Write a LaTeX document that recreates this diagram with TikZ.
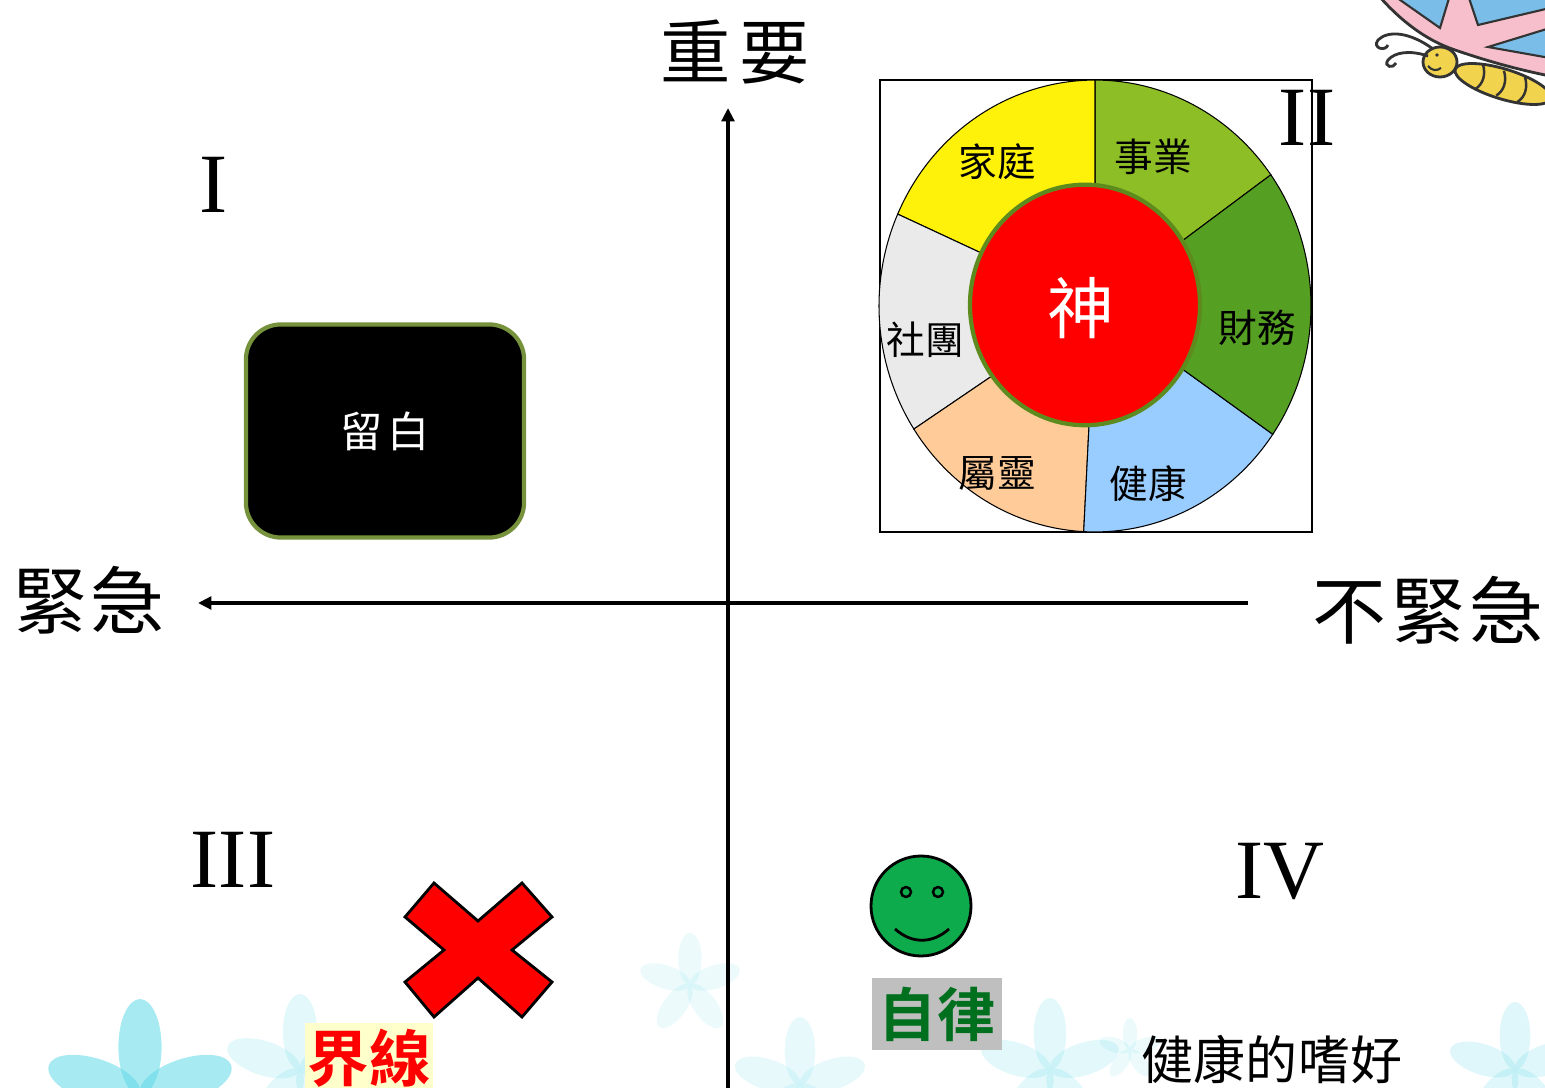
\documentclass[tikz,border=0pt]{standalone}
\usepackage{fontspec}
\setmainfont{Liberation Serif}
\newfontfamily\zh{Noto Sans CJK TC}[BoldFont={Noto Sans CJK TC Bold}]
\usetikzlibrary{arrows.meta}
\definecolor{jiating}{HTML}{FFF20A}
\definecolor{shiye}{HTML}{8DBE26}
\definecolor{caiwu}{HTML}{55A022}
\definecolor{jiankang}{HTML}{99CCFF}
\definecolor{shuling}{HTML}{FFCC99}
\definecolor{shetuan}{HTML}{EAEAEA}
\definecolor{godrim}{HTML}{5E8B1E}
\definecolor{boxrim}{HTML}{76923C}
\definecolor{smiley}{HTML}{0DAB4C}
\definecolor{selfgreen}{HTML}{006F1E}
\definecolor{selfbg}{HTML}{BFBFBF}
\definecolor{linebg}{HTML}{FFFFCC}
\definecolor{wingpink}{HTML}{F6BFCB}
\definecolor{wingblue}{HTML}{79BDE8}
\definecolor{bodyyellow}{HTML}{F2D34E}
\definecolor{petal}{HTML}{5FD8E6}

\begin{document}
\begin{tikzpicture}[x=0.01cm,y=0.01cm,
	axis/.style={line width=1.3pt,-{Triangle[width=3.6pt,length=3.8pt]}},
	numeral/.style={font=\fontsize{24}{24}\selectfont,inner sep=0pt},
	axislabel/.style={font=\zh\fontsize{21}{21}\selectfont,inner sep=0pt},
	slice/.style={draw=black,line width=0.3pt},
	slicelabel/.style={font=\zh\fontsize{11}{11}\selectfont,inner sep=0pt}]
	\clip (0,0) rectangle (1545,1087);
	%		\draw[help lines] (0,0) grid[step=100] (1545,1087);
	% soft flowers and the butterfly, in pixel-like coordinates
	\begin{scope}[shift={(0,1087)},yscale=-1]
		\foreach \cx/\cy/\s/\o in {140/1095/48/0.55, 300/1070/38/0.18, 690/985/26/0.12,
			800/1085/34/0.15, 1050/1070/36/0.18, 1130/1050/16/0.12, 1515/1070/34/0.2}
		\foreach \r in {0,72,...,288}
		\fill[petal,opacity=\o,rotate around={\r:(\cx,\cy)}] (\cx,\cy-\s) ellipse [x radius=0.45*\s, y radius=\s];
		% wings
		\filldraw[fill=wingpink,draw=black!80,line width=0.8pt] (1378,-5) .. controls (1400,20) and (1425,40) .. (1455,50)
			.. controls (1490,62) and (1520,70) .. (1550,76) -- (1550,-5) -- cycle;
		\filldraw[fill=wingblue,draw=black!80,line width=0.6pt] (1393,-5) -- (1440,28) -- (1450,-5) -- cycle;
		\filldraw[fill=wingblue,draw=black!80,line width=0.6pt] (1468,-5) -- (1478,25) -- (1550,8) -- (1550,-5) -- cycle;
		\filldraw[fill=wingblue,draw=black!80,line width=0.6pt] (1488,47) -- (1550,28) -- (1550,58) -- cycle;
		% body and head
		\filldraw[fill=bodyyellow,draw=black!80,line width=0.8pt,rotate around={17:(1503,84)}] (1503,84) ellipse [x radius=50, y radius=15];
		\foreach \bx in {1478,1500,1522}
		\draw[black!80,line width=0.7pt,rotate around={17:(1503,84)}] (\bx,71) .. controls (\bx+6,80) and (\bx+6,90) .. (\bx,97);
		\filldraw[fill=bodyyellow,draw=black!80,line width=0.8pt] (1440,62) ellipse [x radius=17, y radius=15];
		\fill[black!80] (1437,55) circle [radius=1.8];
		\draw[black!80,line width=0.6pt] (1428,66) .. controls (1432,71) and (1437,71) .. (1441,68);
		% antennae
		\draw[black!80,line width=0.8pt] (1433,49) .. controls (1410,32) and (1388,30) .. (1378,40)
			.. controls (1372,48) and (1385,52) .. (1388,45);
		\draw[black!80,line width=0.8pt] (1428,56) .. controls (1410,50) and (1395,52) .. (1388,60)
			.. controls (1383,67) and (1394,69) .. (1396,63);
	\end{scope}
	% axes
	\coordinate (top) at (728,979);
	\coordinate (bottom) at (728,-10);
	\coordinate (left) at (198,484);
	\coordinate (right) at (1248,484);
	\draw[axis] (bottom) -- (top);
	\draw[axis] (right) -- (left);
	\node[axislabel,font=\zh\fontsize{20}{20}\selectfont] (important) at (735,1035) {重\hspace{2.3pt}要};
	\node[axislabel] (urgent) at (89,487) {緊\hspace{1pt}急};
	\node[axislabel] (noturgent) at (1428,477) {不\hspace{1.3pt}緊\hspace{1.3pt}急};
	\node[numeral] (q1) at (214,902) {I};
	\node[numeral] (q2) at (1307,969) {II};
	\node[numeral] (q3) at (233,227) {III};
	\node[numeral] (q4) at (1280,215) {IV};
	% quadrant I
	\node[draw=boxrim,fill=black,line width=1.2pt,rounded corners=0.35cm,minimum width=2.78cm,minimum height=2.13cm,
		text=white,font=\zh\fontsize{12}{12}\selectfont] (blank) at (385,656) {留\hspace{1.5pt}白};
	% quadrant II: the wheel
	\draw[line width=0.4pt] (880,555) rectangle (1312,1007);
	\begin{scope}[shift={(1095,781)},yscale=1.046]
		\foreach \a/\b/\c in {35.5/90/shiye, 90/156/jiating, 156/213/shetuan, 213/267/shuling, 267/325.4/jiankang, -34.6/35.5/caiwu}
		\filldraw[fill=\c,slice] (0,0) -- (\a:216) arc [start angle=\a, end angle=\b, radius=216] -- cycle;
		\filldraw[fill=red,draw=godrim,line width=1.2pt] (-10,1) circle [radius=115];
	\end{scope}
	\node[font=\zh\fontsize{19}{19}\selectfont,text=white,inner sep=0pt] (god) at (1081,779) {神};
	\node[slicelabel] (family) at (997,925) {家庭};
	\node[slicelabel] (career) at (1153,930) {事業};
	\node[slicelabel] (money) at (1257,759) {財務};
	\node[slicelabel] (health) at (1148,603) {健康};
	\node[slicelabel] (spirit) at (997,614) {屬靈};
	\node[slicelabel] (club) at (925,747) {社團};
	% quadrant III
	\filldraw[fill=red,draw=black,line width=0.8pt] (405,170) -- (434,204) -- (478,166) -- (522,204) -- (552,170) -- (512,137)
		-- (552,105) -- (522,70) -- (478,109) -- (434,70) -- (405,105) -- (444,137) -- cycle;
	\node[fill=linebg,text=red,font=\zh\bfseries\fontsize{17.5}{17.5}\selectfont,minimum width=1.28cm,minimum height=0.7cm,
		inner sep=0pt] (boundary) at (369,29) {界線};
	% quadrant IV
	\filldraw[fill=smiley,draw=black,line width=0.8pt] (921,181) circle [radius=50];
	\draw[line width=0.7pt] (906,195) circle [radius=5] (938,195) circle [radius=5];
	\draw[line width=0.8pt] (895,158) .. controls (912,143) and (932,143) .. (949,158);
	\node[fill=selfbg,text=selfgreen,font=\zh\bfseries\fontsize{16.5}{16.5}\selectfont,minimum width=1.29cm,minimum height=0.72cm,
		inner sep=0pt] (discipline) at (937,73) {自律};
	\node[font=\zh\fontsize{14.8}{14.8}\selectfont,inner sep=0pt] (hobby) at (1272,27) {健康的嗜好};
\end{tikzpicture}
\end{document}
